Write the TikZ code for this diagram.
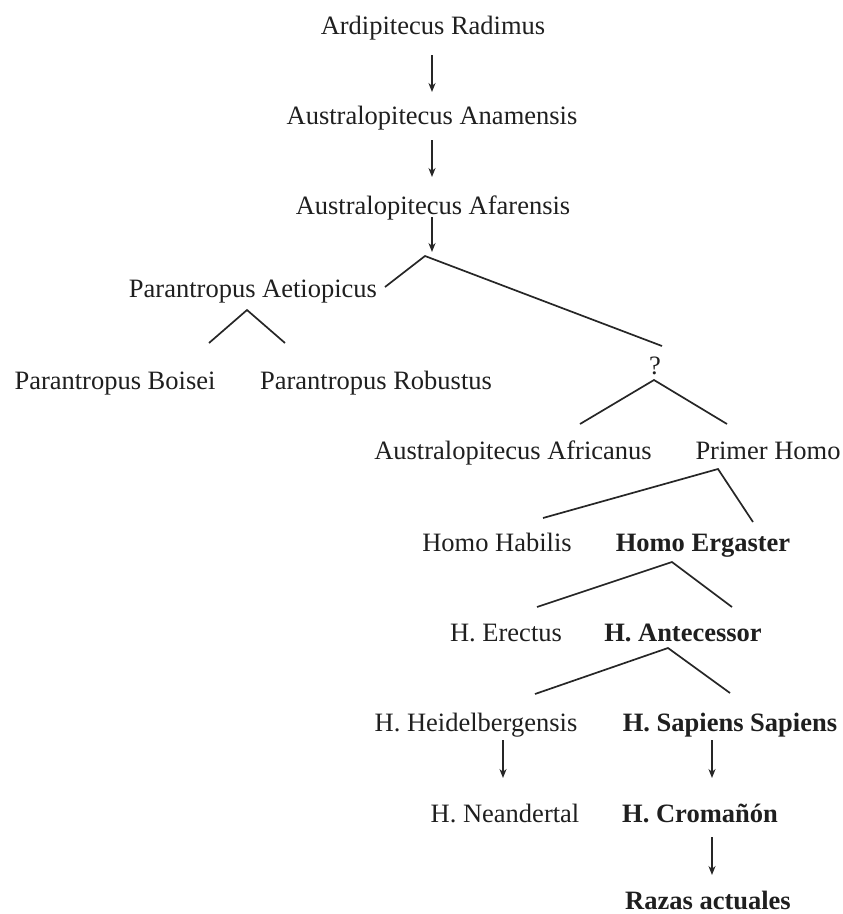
\documentclass[tikz,border=0pt]{standalone}
\usepackage{fontspec}
\setmainfont{Liberation Serif}
\usetikzlibrary{arrows.meta}
\begin{document}
\begin{tikzpicture}[x=1pt,y=-1pt,
  lbl/.style={font=\fontsize{26.5}{30}\selectfont, text=black!88, inner sep=0pt, text height=19pt, text depth=1pt},
  bl/.style={lbl, font=\fontsize{26.5}{30}\selectfont\bfseries},
  ln/.style={line width=1.7pt, black!85},
  arr/.style={ln, -{Stealth[length=9pt,width=7pt]}}]
\useasboundingbox (0,0) rectangle (843,914);
% nodes
\node[lbl] (ard) at (433,25) {Ardipitecus Radimus};
\node[lbl] (ana) at (432,115) {Australopitecus Anamensis};
\node[lbl] (afa) at (433,205) {Australopitecus Afarensis};
\node[lbl] (aet) at (253,288) {Parantropus Aetiopicus};
\node[lbl] (boi) at (115,380) {Parantropus Boisei};
\node[lbl] (rob) at (376,380) {Parantropus Robustus};
\node[lbl] (q) at (655,365) {?};
\node[lbl] (afr) at (513,450) {Australopitecus Africanus};
\node[lbl] (pri) at (768,450) {Primer Homo};
\node[lbl] (hab) at (497,542) {Homo Habilis};
\node[bl] (erg) at (703,542) {Homo Ergaster};
\node[lbl] (ere) at (506,632) {H. Erectus};
\node[bl] (ant) at (683,632) {H. Antecessor};
\node[lbl] (hei) at (476,722) {H. Heidelbergensis};
\node[bl] (sap) at (730,722) {H. Sapiens Sapiens};
\node[lbl] (nea) at (505,813) {H. Neandertal};
\node[bl] (cro) at (700,813) {H. Cromañón};
\node[bl] (raz) at (708,900) {Razas actuales};
% arrow end points
\coordinate (a1s) at (432,55);  \coordinate (a1e) at (432,92);
\coordinate (a2s) at (432,140); \coordinate (a2e) at (432,177);
\coordinate (a3s) at (432,217); \coordinate (a3e) at (432,252);
\coordinate (a4s) at (503,740); \coordinate (a4e) at (503,778);
\coordinate (a5s) at (712,740); \coordinate (a5e) at (712,778);
\coordinate (a6s) at (712,837); \coordinate (a6e) at (712,875);
\draw[arr] (a1s) -- (a1e);
\draw[arr] (a2s) -- (a2e);
\draw[arr] (a3s) -- (a3e);
\draw[arr] (a4s) -- (a4e);
\draw[arr] (a5s) -- (a5e);
\draw[arr] (a6s) -- (a6e);
% branch points
\coordinate (b1l) at (385,287); \coordinate (b1a) at (425,256); \coordinate (b1r) at (662,346);
\coordinate (b2l) at (209,343); \coordinate (b2a) at (247,310); \coordinate (b2r) at (285,343);
\coordinate (b3l) at (580,424); \coordinate (b3a) at (654,380); \coordinate (b3r) at (727,424);
\coordinate (b4l) at (543,518); \coordinate (b4a) at (718,469); \coordinate (b4r) at (753,522);
\coordinate (b5l) at (537,607); \coordinate (b5a) at (672,562); \coordinate (b5r) at (732,607);
\coordinate (b6l) at (535,694); \coordinate (b6a) at (668,648); \coordinate (b6r) at (730,693);
\draw[ln] (b1l) -- (b1a) -- (b1r);
\draw[ln] (b2l) -- (b2a) -- (b2r);
\draw[ln] (b3l) -- (b3a) -- (b3r);
\draw[ln] (b4l) -- (b4a) -- (b4r);
\draw[ln] (b5l) -- (b5a) -- (b5r);
\draw[ln] (b6l) -- (b6a) -- (b6r);
\end{tikzpicture}
\end{document}
